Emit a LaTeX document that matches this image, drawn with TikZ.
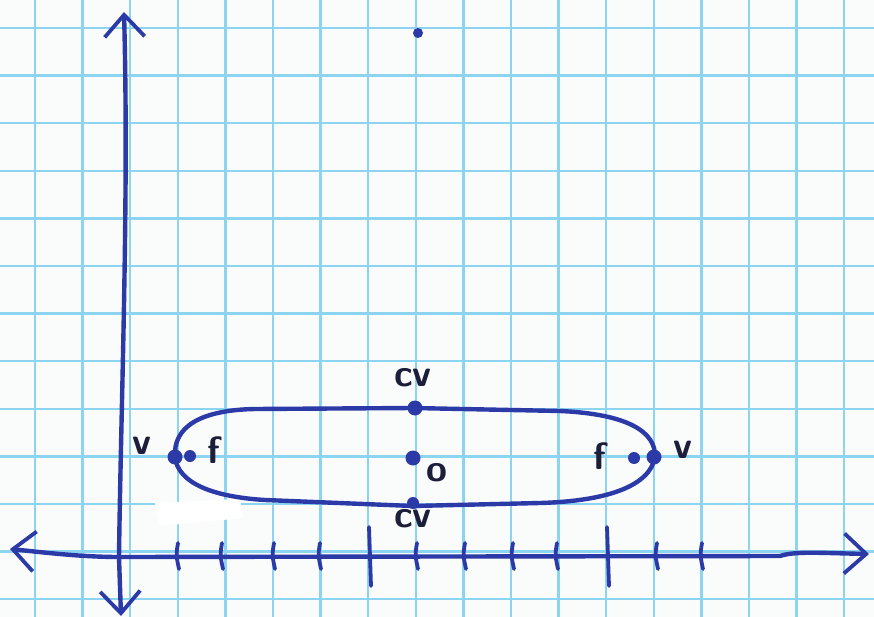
\documentclass[tikz,border=0pt]{standalone}
\usetikzlibrary{arrows.meta}
\definecolor{gridc}{RGB}{140,212,240}
\definecolor{pen}{RGB}{44,58,168}
\definecolor{ink}{RGB}{28,30,58}
\definecolor{paper}{RGB}{250,252,252}
\begin{document}
\begin{tikzpicture}[x=1pt,y=-1pt,
  gridline/.style={gridc,line width=2.4pt},
  penline/.style={pen,line width=4.4pt,line cap=round,line join=round},
  axisarrow/.style={penline,-{Straight Barb[length=22pt,width=40pt,line width=3.8pt]}},
  dotmark/.style={circle,fill=pen,inner sep=0pt,minimum size=15pt},
  lbl/.style={ink,font=\fontsize{38}{38}\selectfont\sffamily\bfseries,inner sep=0pt},
  tick/.style={penline,line width=3.8pt}]
\useasboundingbox (0,0) rectangle (874,617);
\fill[paper] (0,0) rectangle (874,617);
% grid
\foreach \i in {0,...,17} \draw[gridline] ({35+47.6*\i},0) -- ({35+47.6*\i},617);
\foreach \j in {0,...,12} \draw[gridline] (0,{28+47.6*\j}) -- (874,{28+47.6*\j});
% white patch
\fill[white] (155,503) -- (240,499) -- (243,518) -- (160,526) -- cycle;
% axis end points
\coordinate (ytop) at (124,12);
\coordinate (ybot) at (121,616);
\coordinate (xleft) at (10,549);
\coordinate (xright) at (869,554);
% y axis
\draw[axisarrow] (119,557) .. controls (121,400) and (129,200) .. (ytop);
\draw[axisarrow] (119,557) -- (ybot);
% x axis
\draw[axisarrow] (119,557) .. controls (80,557) and (40,552) .. (xleft);
\draw[axisarrow] (119,557) -- (780,556) .. controls (795,551) and (820,553) .. (xright);
% ticks
\foreach \x in {178,222,274,320,417,465,513,557,657,702}
  \draw[tick] (\x,543) .. controls (\x-2,555) .. (\x+1,569);
\foreach \x in {370,608}
  \draw[tick] (\x-1,527) -- (\x+1,586);
% ellipse
\draw[penline] (175,457) .. controls (173,427) and (200,410) .. (255,409)
  -- (413,408) -- (560,411)
  .. controls (628,414) and (656,432) .. (655,457)
  .. controls (650,485) and (610,501) .. (540,503)
  -- (413,506) -- (265,500)
  .. controls (215,497) and (178,484) .. cycle;
% dots
\node[dotmark] (vl) at (175,457) {};
\node[dotmark,minimum size=12pt] (fl) at (190,456) {};
\node[dotmark] (o) at (413,458) {};
\node[dotmark] (cvt) at (415,408) {};
\node[dotmark,minimum size=12pt] (cvb) at (413,503) {};
\node[dotmark,minimum size=12pt] (fr) at (634,458) {};
\node[dotmark] (vr) at (654,457) {};
\node[dotmark,minimum size=10pt] (stray) at (418,33) {};
% labels
\node[lbl] (lvl) at (142,446) {v};
\node[lbl] (lfl) at (214,450) {f};
\node[lbl] (lo) at (437,473) {o};
\node[lbl] (lcvt) at (413,378) {cv};
\node[lbl] (lcvb) at (413,519) {cv};
\node[lbl] (lfr) at (600,456) {f};
\node[lbl] (lvr) at (683,450) {v};
\end{tikzpicture}
\end{document}
